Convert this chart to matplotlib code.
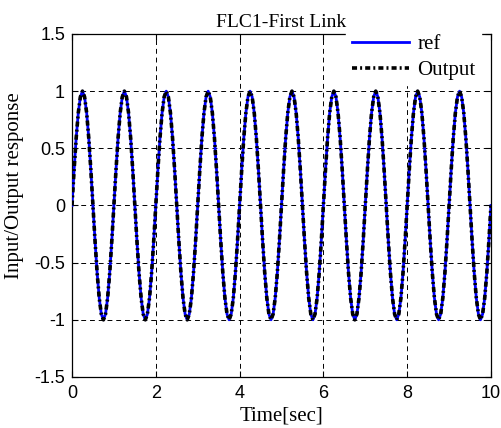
import numpy as np
import matplotlib
matplotlib.use("Agg")
import matplotlib.pyplot as plt

# one cycle of the response, read at 0.05 s steps (period ~1 s)
cycle_vals = [0.0, 0.31, 0.59, 0.81, 0.95, 1.0, 0.95, 0.81, 0.59, 0.31,
              0.0, -0.31, -0.59, -0.81, -0.95, -1.0, -0.95, -0.81, -0.59, -0.31]
n_cycles = 10
t_step = 0.05

ref = np.array(cycle_vals * n_cycles + [0.0])
output = ref.copy()
time_s = np.arange(len(ref)) * t_step

xticks = [0, 2, 4, 6, 8, 10]
yticks = [-1.5, -1, -0.5, 0, 0.5, 1, 1.5]
yticklabels = ["-1.5", "-1", "-0.5", "0", "0.5", "1", "1.5"]

serif = ["Liberation Serif", "DejaVu Serif"]
sans = ["Liberation Sans", "DejaVu Sans"]

fig = plt.figure(figsize=(5.01, 4.28), dpi=100)
ax = fig.add_axes([0.1437, 0.1192, 0.8363, 0.8014])

ax.plot(time_s, ref, color="blue", lw=2.0, label="ref", zorder=3)
ax.plot(time_s, output, color="black", lw=2.6, ls=(0, (1.4, 0.85, 0.55, 0.85)),
        label="Output", zorder=4)

ax.set_xlim(0, 10)
ax.set_ylim(-1.5, 1.5)
ax.set_xticks(xticks)
ax.set_yticks(yticks)
ax.set_xticklabels([str(v) for v in xticks], family=sans, fontsize=13)
ax.set_yticklabels(yticklabels, family=sans, fontsize=13)
ax.tick_params(direction="in", top=True, right=True, length=4, width=0.8)
ax.tick_params(axis="x", pad=6)
ax.tick_params(axis="y", pad=5)
ax.grid(True, color="black", ls=(0, (5, 4)), lw=0.7)
for s in ax.spines.values():
    s.set_linewidth(0.9)

ax.set_title("FLC1-First Link", family=serif, fontsize=14, pad=5)
ax.set_xlabel("Time[sec]", family=serif, fontsize=15)
ax.set_ylabel("Input/Output response", family=serif, fontsize=15)
ax.xaxis.set_label_coords(0.5, -0.085)
ax.yaxis.set_label_coords(-0.115, 0.557)

leg = ax.legend(loc="upper left", bbox_to_anchor=(0.655, 1.014, 0.33, 0.0),
                prop={"family": serif, "size": 15},
                frameon=True, fancybox=False, framealpha=1, edgecolor="white",
                handlelength=2.75, borderpad=0.25, labelspacing=0.3, handletextpad=0.4,
                borderaxespad=0)
leg.set_zorder(10)

fig.savefig("out.png", dpi=100)
